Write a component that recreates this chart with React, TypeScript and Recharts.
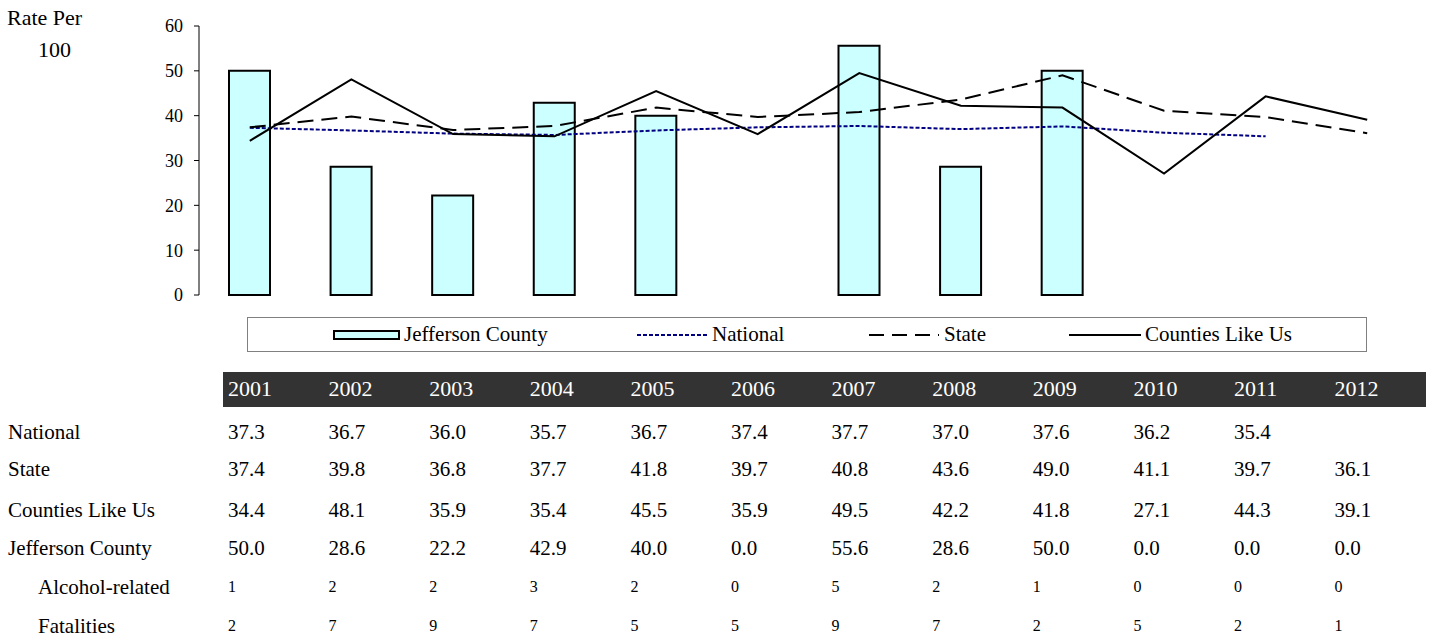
import {
    ComposedChart,
    Bar,
    Line,
    XAxis,
    YAxis,
    Legend,
} from "recharts";

const YEARS = ["2001", "2002", "2003", "2004", "2005", "2006", "2007", "2008", "2009", "2010", "2011", "2012"];
const NATIONAL: (number | null)[] = [37.3, 36.7, 36.0, 35.7, 36.7, 37.4, 37.7, 37.0, 37.6, 36.2, 35.4, null];
const STATE = [37.4, 39.8, 36.8, 37.7, 41.8, 39.7, 40.8, 43.6, 49.0, 41.1, 39.7, 36.1];
const COUNTIES = [34.4, 48.1, 35.9, 35.4, 45.5, 35.9, 49.5, 42.2, 41.8, 27.1, 44.3, 39.1];
const JEFFERSON = [50.0, 28.6, 22.2, 42.9, 40.0, 0.0, 55.6, 28.6, 50.0, 0.0, 0.0, 0.0];
const ALCOHOL = [1, 2, 2, 3, 2, 0, 5, 2, 1, 0, 0, 0];
const FATALITIES = [2, 7, 9, 7, 5, 5, 9, 7, 2, 5, 2, 1];
const Y_TICKS = [0, 10, 20, 30, 40, 50, 60];

const FONT = "'Liberation Serif', 'Times New Roman', serif";
const BAR_FILL = "#CCFFFF";
const NAVY = "#000080";

const data = YEARS.map((year, i) => ({
    year,
    national: NATIONAL[i],
    state: STATE[i],
    counties: COUNTIES[i],
    jefferson: JEFFERSON[i],
}));

const fmt = (v: number | null) => (v === null ? "" : v.toFixed(1));

const rows: { label: string; values: string[]; small?: boolean }[] = [
    { label: "National", values: NATIONAL.map(fmt) },
    { label: "State", values: STATE.map(fmt) },
    { label: "Counties Like Us", values: COUNTIES.map(fmt) },
    { label: "Jefferson County", values: JEFFERSON.map(fmt) },
    { label: "Alcohol-related", values: ALCOHOL.map(String), small: true },
    { label: "Fatalities", values: FATALITIES.map(String), small: true },
];

// vertical centre of each table row
const ROW_MID = [432, 469, 510, 548, 587, 626];
const colLeft = (i: number) => 228 + i * 100.6;

function LineSwatch({ color, dash, width }: { color: string; dash?: string; width: number }) {
    return (
        <svg width={width} height={10} style={{ display: "block" }}>
            <line x1={0} y1={5} x2={width} y2={5} stroke={color} strokeWidth={2} strokeDasharray={dash} />
        </svg>
    );
}

function LegendBox() {
    const item = (left: number): React.CSSProperties => ({
        position: "absolute",
        left,
        top: 0,
        height: 33,
        display: "flex",
        alignItems: "center",
        fontFamily: FONT,
        fontSize: 21,
        color: "#000",
        whiteSpace: "nowrap",
    });
    // positions relative to the box (box left = 247)
    return (
        <div
            style={{
                position: "relative",
                width: 1118,
                height: 33,
                border: "1px solid #808080",
                background: "#fff",
            }}
        >
            <div style={item(85)}>
                <div style={{ width: 63, height: 6, background: BAR_FILL, border: "2px solid #000", marginRight: 4 }} />
                Jefferson County
            </div>
            <div style={item(389)}>
                <LineSwatch color={NAVY} dash="4 2" width={70} />
                <span style={{ marginLeft: 5 }}>National</span>
            </div>
            <div style={item(621)}>
                <LineSwatch color="#000" dash="15 8" width={70} />
                <span style={{ marginLeft: 5 }}>State</span>
            </div>
            <div style={item(821)}>
                <LineSwatch color="#000" width={72} />
                <span style={{ marginLeft: 4 }}>Counties Like Us</span>
            </div>
        </div>
    );
}

export default function App() {
    return (
        <div style={{ position: "absolute", left: 0, top: 0, width: 1434, height: 641, background: "#fff", fontFamily: FONT }}>
            <div style={{ position: "absolute", left: 7, top: 5, fontSize: 22, lineHeight: "26px" }}>Rate Per</div>
            <div style={{ position: "absolute", left: 38, top: 37, fontSize: 22, lineHeight: "26px" }}>100</div>

            <div style={{ position: "absolute", left: 0, top: 0 }}>
                <ComposedChart
                    width={1434}
                    height={360}
                    data={data}
                    margin={{ top: 26, right: 16, bottom: 65, left: 0 }}
                    barSize={41}
                >
                    <XAxis dataKey="year" hide />
                    <YAxis
                        width={199}
                        domain={[0, 60]}
                        ticks={Y_TICKS}
                        interval={0}
                        axisLine={{ stroke: "#000", strokeWidth: 1 }}
                        tickLine={{ stroke: "#000", strokeWidth: 1 }}
                        tickSize={5}
                        tickMargin={11}
                        tick={{ fill: "#000", fontSize: 18, fontFamily: FONT }}
                    />
                    <Legend
                        layout="horizontal"
                        verticalAlign="middle"
                        align="center"
                        wrapperStyle={{ left: 247, top: 317, width: 1120, height: 35 }}
                        content={() => <LegendBox />}
                    />
                    <Bar
                        dataKey="jefferson"
                        name="Jefferson County"
                        fill={BAR_FILL}
                        stroke="#000"
                        strokeWidth={2}
                        isAnimationActive={false}
                    />
                    <Line
                        dataKey="national"
                        name="National"
                        stroke={NAVY}
                        strokeWidth={2}
                        strokeDasharray="4 2"
                        dot={false}
                        activeDot={false}
                        type="linear"
                        isAnimationActive={false}
                    />
                    <Line
                        dataKey="state"
                        name="State"
                        stroke="#000"
                        strokeWidth={2}
                        strokeDasharray="16 8"
                        dot={false}
                        activeDot={false}
                        type="linear"
                        isAnimationActive={false}
                    />
                    <Line
                        dataKey="counties"
                        name="Counties Like Us"
                        stroke="#000"
                        strokeWidth={2}
                        dot={false}
                        activeDot={false}
                        type="linear"
                        isAnimationActive={false}
                    />
                </ComposedChart>
            </div>

            {/* data table under the chart */}
            <div style={{ position: "absolute", left: 223, top: 372, width: 1203, height: 35, background: "#333333" }} />
            {YEARS.map((y, i) => (
                <div
                    key={y}
                    style={{ position: "absolute", left: colLeft(i), top: 376, fontSize: 22, color: "#fff", lineHeight: "26px" }}
                >
                    {y}
                </div>
            ))}
            {rows.map((r, ri) => (
                <div key={r.label}>
                    <div
                        style={{
                            position: "absolute",
                            left: r.small ? 38 : 8,
                            top: ROW_MID[ri] - 13,
                            fontSize: 21,
                            lineHeight: "26px",
                            whiteSpace: "nowrap",
                        }}
                    >
                        {r.label}
                    </div>
                    {r.values.map((v, i) => (
                        <div
                            key={i}
                            style={{
                                position: "absolute",
                                left: colLeft(i),
                                top: ROW_MID[ri] - 13,
                                fontSize: r.small ? 16 : 21,
                                lineHeight: "26px",
                            }}
                        >
                            {v}
                        </div>
                    ))}
                </div>
            ))}
        </div>
    );
}
